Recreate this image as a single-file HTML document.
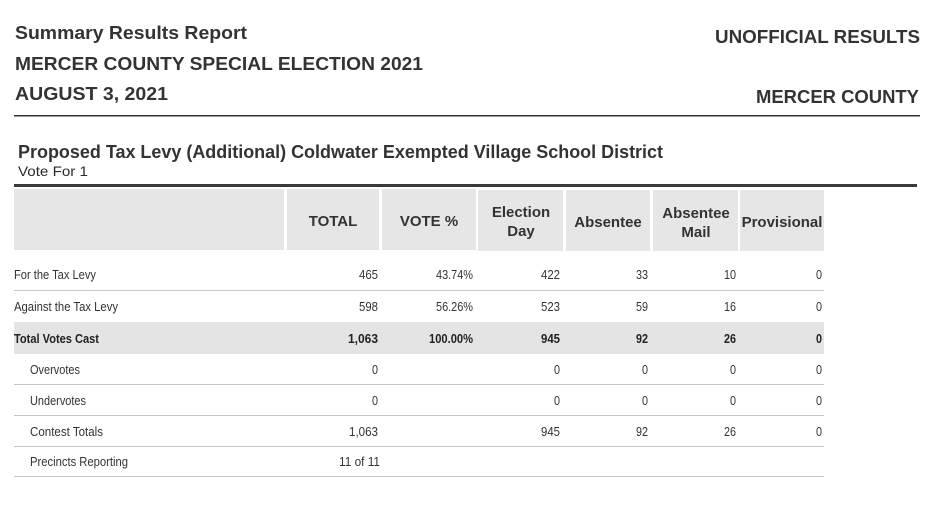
<!DOCTYPE html>
<html><head><meta charset="utf-8"><style>
html,body{margin:0;padding:0;background:#fff;}
svg{display:block;}
text{font-family:"Liberation Sans",sans-serif;fill:#2b2b2b;}
.h{font-weight:bold;font-size:18px;fill:#333;}
.c{font-family:"Liberation Sans Narrow","Liberation Sans",sans-serif;font-size:13px;fill:#333;}
.cb{font-family:"Liberation Sans Narrow","Liberation Sans",sans-serif;font-size:13px;font-weight:bold;fill:#222;}
.th{font-weight:bold;font-size:15px;fill:#333;}
</style></head><body>
<svg width="939" height="511" viewBox="0 0 939 511" xmlns="http://www.w3.org/2000/svg">
<rect width="939" height="511" fill="#fff"/>
<text class="h" x="15" y="39" textLength="232" lengthAdjust="spacingAndGlyphs">Summary Results Report</text>
<text class="h" x="15" y="70" textLength="408" lengthAdjust="spacingAndGlyphs">MERCER COUNTY SPECIAL ELECTION 2021</text>
<text class="h" x="15" y="100" textLength="153" lengthAdjust="spacingAndGlyphs">AUGUST 3, 2021</text>
<text class="h" x="715" y="43" textLength="205" lengthAdjust="spacingAndGlyphs">UNOFFICIAL RESULTS</text>
<text class="h" x="756" y="103" textLength="163" lengthAdjust="spacingAndGlyphs">MERCER COUNTY</text>
<rect x="14" y="115" width="906" height="1.5" fill="#333"/>
<text class="h" x="18" y="158" textLength="645" lengthAdjust="spacingAndGlyphs">Proposed Tax Levy (Additional) Coldwater Exempted Village School District</text>
<text x="18" y="176" font-size="14" fill="#333" textLength="70" lengthAdjust="spacingAndGlyphs">Vote For 1</text>
<rect x="14" y="184" width="903" height="3" fill="#3a3a3a"/>
<g fill="#e6e6e6">
<rect x="14" y="189" width="270" height="61"/>
<rect x="287" y="189" width="92" height="61"/>
<rect x="382" y="189" width="94" height="61"/>
<rect x="478" y="190" width="85" height="61"/>
<rect x="566" y="190" width="84" height="61"/>
<rect x="653" y="190" width="85" height="61"/>
<rect x="740" y="190" width="84" height="61"/>
</g>
<g text-anchor="middle">
<text class="th" x="333" y="226">TOTAL</text>
<text class="th" x="429" y="226">VOTE %</text>
<text class="th" x="521" y="217">Election</text>
<text class="th" x="521" y="236">Day</text>
<text class="th" x="608" y="227">Absentee</text>
<text class="th" x="696" y="218">Absentee</text>
<text class="th" x="696" y="237">Mail</text>
<text class="th" x="782" y="227">Provisional</text>
</g>
<rect x="14" y="322" width="810" height="32" fill="#e4e4e4"/>
<g fill="#c8c8c8">
<rect x="14" y="290" width="810" height="1"/>
<rect x="14" y="384" width="810" height="1"/>
<rect x="14" y="415" width="810" height="1"/>
<rect x="14" y="446" width="810" height="1"/>
<rect x="14" y="476" width="810" height="1"/>
</g>
<text class="c" x="14" y="279" textLength="82" lengthAdjust="spacingAndGlyphs">For the Tax Levy</text>
<text class="c" x="14" y="311" textLength="104" lengthAdjust="spacingAndGlyphs">Against the Tax Levy</text>
<text class="cb" x="14" y="343" textLength="85" lengthAdjust="spacingAndGlyphs">Total Votes Cast</text>
<text class="c" x="30" y="374" textLength="50" lengthAdjust="spacingAndGlyphs">Overvotes</text>
<text class="c" x="30" y="405" textLength="56" lengthAdjust="spacingAndGlyphs">Undervotes</text>
<text class="c" x="30" y="436" textLength="73" lengthAdjust="spacingAndGlyphs">Contest Totals</text>
<text class="c" x="30" y="466" textLength="98" lengthAdjust="spacingAndGlyphs">Precincts Reporting</text>
<g text-anchor="end" lengthAdjust="spacingAndGlyphs">
<text class="c" x="378" y="279" textLength="19" lengthAdjust="spacingAndGlyphs">465</text><text class="c" x="473" y="279" textLength="37" lengthAdjust="spacingAndGlyphs">43.74%</text><text class="c" x="560" y="279" textLength="19" lengthAdjust="spacingAndGlyphs">422</text><text class="c" x="648" y="279" textLength="12" lengthAdjust="spacingAndGlyphs">33</text><text class="c" x="736" y="279" textLength="12" lengthAdjust="spacingAndGlyphs">10</text><text class="c" x="822" y="279" textLength="6" lengthAdjust="spacingAndGlyphs">0</text>
<text class="c" x="378" y="311" textLength="19" lengthAdjust="spacingAndGlyphs">598</text><text class="c" x="473" y="311" textLength="37" lengthAdjust="spacingAndGlyphs">56.26%</text><text class="c" x="560" y="311" textLength="19" lengthAdjust="spacingAndGlyphs">523</text><text class="c" x="648" y="311" textLength="12" lengthAdjust="spacingAndGlyphs">59</text><text class="c" x="736" y="311" textLength="12" lengthAdjust="spacingAndGlyphs">16</text><text class="c" x="822" y="311" textLength="6" lengthAdjust="spacingAndGlyphs">0</text>
<text class="cb" x="378" y="343" textLength="30" lengthAdjust="spacingAndGlyphs">1,063</text><text class="cb" x="473" y="343" textLength="44" lengthAdjust="spacingAndGlyphs">100.00%</text><text class="cb" x="560" y="343" textLength="19" lengthAdjust="spacingAndGlyphs">945</text><text class="cb" x="648" y="343" textLength="12" lengthAdjust="spacingAndGlyphs">92</text><text class="cb" x="736" y="343" textLength="12" lengthAdjust="spacingAndGlyphs">26</text><text class="cb" x="822" y="343" textLength="6" lengthAdjust="spacingAndGlyphs">0</text>
<text class="c" x="378" y="374" textLength="6" lengthAdjust="spacingAndGlyphs">0</text><text class="c" x="560" y="374" textLength="6" lengthAdjust="spacingAndGlyphs">0</text><text class="c" x="648" y="374" textLength="6" lengthAdjust="spacingAndGlyphs">0</text><text class="c" x="736" y="374" textLength="6" lengthAdjust="spacingAndGlyphs">0</text><text class="c" x="822" y="374" textLength="6" lengthAdjust="spacingAndGlyphs">0</text>
<text class="c" x="378" y="405" textLength="6" lengthAdjust="spacingAndGlyphs">0</text><text class="c" x="560" y="405" textLength="6" lengthAdjust="spacingAndGlyphs">0</text><text class="c" x="648" y="405" textLength="6" lengthAdjust="spacingAndGlyphs">0</text><text class="c" x="736" y="405" textLength="6" lengthAdjust="spacingAndGlyphs">0</text><text class="c" x="822" y="405" textLength="6" lengthAdjust="spacingAndGlyphs">0</text>
<text class="c" x="378" y="436" textLength="29" lengthAdjust="spacingAndGlyphs">1,063</text><text class="c" x="560" y="436" textLength="19" lengthAdjust="spacingAndGlyphs">945</text><text class="c" x="648" y="436" textLength="12" lengthAdjust="spacingAndGlyphs">92</text><text class="c" x="736" y="436" textLength="12" lengthAdjust="spacingAndGlyphs">26</text><text class="c" x="822" y="436" textLength="6" lengthAdjust="spacingAndGlyphs">0</text>
<text class="c" x="380" y="466" textLength="41" lengthAdjust="spacingAndGlyphs">11 of 11</text>
</g>
</svg>
</body></html>
